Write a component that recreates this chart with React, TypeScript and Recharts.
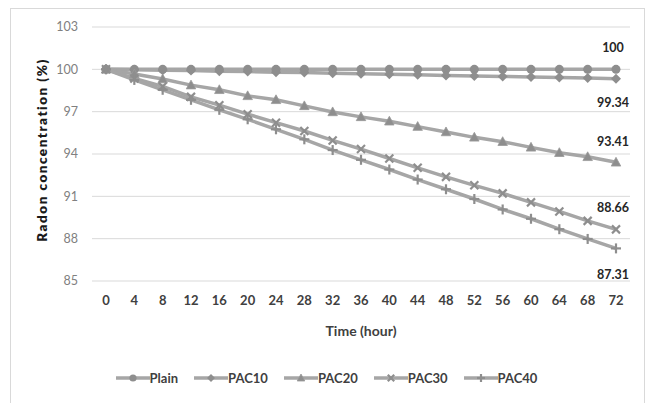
import React from 'react';
import { LineChart, Line, XAxis, YAxis, CartesianGrid, Legend, Label, LabelList } from 'recharts';

const hours = [0, 4, 8, 12, 16, 20, 24, 28, 32, 36, 40, 44, 48, 52, 56, 60, 64, 68, 72];
const plain = [100, 100, 100, 100, 100, 100, 100, 100, 100, 100, 100, 100, 100, 100, 100, 100, 100, 100, 100];
const pac10 = [100, 99.97, 99.94, 99.91, 99.87, 99.84, 99.8, 99.77, 99.73, 99.69, 99.65, 99.61, 99.57, 99.53, 99.5, 99.46, 99.42, 99.38, 99.34];
const pac20 = [100, 99.67, 99.31, 98.88, 98.55, 98.12, 97.84, 97.41, 96.98, 96.63, 96.32, 95.94, 95.56, 95.18, 94.87, 94.47, 94.09, 93.8, 93.41];
const pac30 = [100, 99.35, 98.79, 98.05, 97.46, 96.82, 96.22, 95.63, 94.96, 94.35, 93.68, 93.02, 92.38, 91.78, 91.21, 90.57, 89.93, 89.26, 88.66];
const pac40 = [100, 99.25, 98.55, 97.84, 97.13, 96.46, 95.75, 95.04, 94.28, 93.59, 92.9, 92.19, 91.5, 90.81, 90.07, 89.41, 88.67, 87.98, 87.31];

const seriesNames = ['Plain', 'PAC10', 'PAC20', 'PAC30', 'PAC40'];
const seriesValues = [plain, pac10, pac20, pac30, pac40];
const yTicks = [85, 88, 91, 94, 97, 100, 103];
const labelOffsets = [-22, 24, -21, -22, 26];

const data = hours.map((h, i) => {
  const row: any = { time: h };
  seriesNames.forEach((n, k) => {
    row[n] = seriesValues[k][i];
  });
  return row;
});

const LINE = '#a6a6a6';
const MARK = '#8e8e8e';
const FONT = 'Lato, "Open Sans", sans-serif';

function Marker({ kind, cx, cy, s = 1 }: { kind: number; cx: number; cy: number; s?: number }) {
  if (cx == null || cy == null) return null;
  if (kind === 0) return <circle cx={cx} cy={cy} r={4.5 * s} fill={MARK} />;
  if (kind === 1) {
    const r = 5 * s;
    return <polygon points={`${cx},${cy - r} ${cx + r},${cy} ${cx},${cy + r} ${cx - r},${cy}`} fill={MARK} />;
  }
  if (kind === 2) {
    const r = 5 * s;
    return (
      <polygon
        points={`${cx},${cy - r} ${cx + r * 0.95},${cy + r * 0.75} ${cx - r * 0.95},${cy + r * 0.75}`}
        fill={MARK}
        stroke="#999"
        strokeWidth={0.8}
      />
    );
  }
  if (kind === 3) {
    const r = 4 * s;
    return (
      <g stroke={MARK} strokeWidth={2.2}>
        <line x1={cx - r} y1={cy - r} x2={cx + r} y2={cy + r} />
        <line x1={cx - r} y1={cy + r} x2={cx + r} y2={cy - r} />
      </g>
    );
  }
  const r = 5 * s;
  return (
    <g stroke={MARK} strokeWidth={2.2}>
      <line x1={cx - r} y1={cy} x2={cx + r} y2={cy} />
      <line x1={cx} y1={cy - r} x2={cx} y2={cy + r} />
    </g>
  );
}

const makeDot = (kind: number) => (props: any) => (
  <Marker key={`d-${kind}-${props.index}`} kind={kind} cx={props.cx} cy={props.cy} />
);

const makeEndLabel = (k: number) => (props: any) => {
  const { x, y, index, value } = props;
  if (index !== hours.length - 1) return null;
  return (
    <text
      x={Number(x) - 3}
      y={Number(y) + labelOffsets[k]}
      textAnchor="middle"
      dominantBaseline="central"
      fontFamily={FONT}
      fontWeight={700}
      fontSize={12.5}
      fill="#262626"
    >
      {String(value)}
    </text>
  );
};

const renderLegend = () => (
  <div
    style={{
      height: 50,
      width: '100%',
      display: 'flex',
      justifyContent: 'center',
      alignItems: 'flex-start',
      paddingTop: 27,
      boxSizing: 'border-box',
      paddingLeft: 4,
    }}
  >
    {seriesNames.map((n, k) => (
      <div key={n} style={{ display: 'flex', alignItems: 'center', marginRight: k < 4 ? 16 : 0, height: 16 }}>
        <svg width={34} height={14} style={{ display: 'block' }}>
          <line x1={0} y1={7} x2={34} y2={7} stroke={LINE} strokeWidth={3.5} />
          <Marker kind={k} cx={17} cy={7} s={0.8} />
        </svg>
        <span style={{ fontFamily: FONT, fontWeight: 700, fontSize: 13, color: '#404040', lineHeight: '16px' }}>{n}</span>
      </div>
    ))}
  </div>
);

export default function App() {
  return (
    <div style={{ position: 'absolute', left: 0, top: 0, width: 649, height: 403, background: '#fff', overflow: 'hidden' }}>
      <div
        style={{
          position: 'absolute',
          left: 10,
          top: 8,
          width: 635,
          height: 420,
          border: '1px solid #d9d9d9',
          boxSizing: 'border-box',
        }}
      />
      <div style={{ position: 'absolute', left: 0, top: 0 }}>
        <LineChart width={649} height={403} data={data} margin={{ top: 27, right: 19, bottom: 10, left: 0 }}>
          <CartesianGrid vertical={false} stroke="#d9d9d9" strokeWidth={1} />
          <XAxis
            dataKey="time"
            type="category"
            padding={{ left: 14, right: 14 }}
            axisLine={false}
            tickLine={false}
            tickSize={0}
            tickMargin={15}
            height={62}
            interval={0}
            tick={{ fontFamily: FONT, fontWeight: 700, fontSize: 13, fill: '#404040' }}
          >
            <Label
              content={(p: any) => {
                const vb = p.viewBox || {};
                return (
                  <text
                    x={vb.x + vb.width / 2}
                    y={vb.y + 49}
                    textAnchor="middle"
                    dominantBaseline="central"
                    fontFamily={FONT}
                    fontWeight={700}
                    fontSize={14}
                    fill="#404040"
                  >
                    Time (hour)
                  </text>
                );
              }}
            />
          </XAxis>
          <YAxis
            domain={[85, 103]}
            ticks={yTicks}
            interval={0}
            width={92}
            axisLine={false}
            tickLine={false}
            tickSize={0}
            tickMargin={14}
            tick={{ fontFamily: FONT, fontSize: 12.5, fill: '#808080' }}
          >
            <Label
              content={(p: any) => {
                const vb = p.viewBox || {};
                const cy = vb.y + vb.height / 2 - 4;
                return (
                  <text
                    x={42}
                    y={cy}
                    transform={`rotate(-90, 42, ${cy})`}
                    textAnchor="middle"
                    dominantBaseline="central"
                    fontFamily={FONT}
                    fontWeight={800}
                    fontSize={13.5}
                    letterSpacing={1.5}
                    fill="#1a1a1a"
                  >
                    Radon concentration (%)
                  </text>
                );
              }}
            />
          </YAxis>
          <Legend verticalAlign="bottom" content={renderLegend} wrapperStyle={{ left: 0, width: 649 }} />
          {seriesNames.map((n, k) => (
            <Line
              key={n}
              type="linear"
              dataKey={n}
              stroke={LINE}
              strokeWidth={3.5}
              dot={makeDot(k)}
              activeDot={false}
              isAnimationActive={false}
            >
              <LabelList dataKey={n} content={makeEndLabel(k)} />
            </Line>
          ))}
        </LineChart>
      </div>
    </div>
  );
}
